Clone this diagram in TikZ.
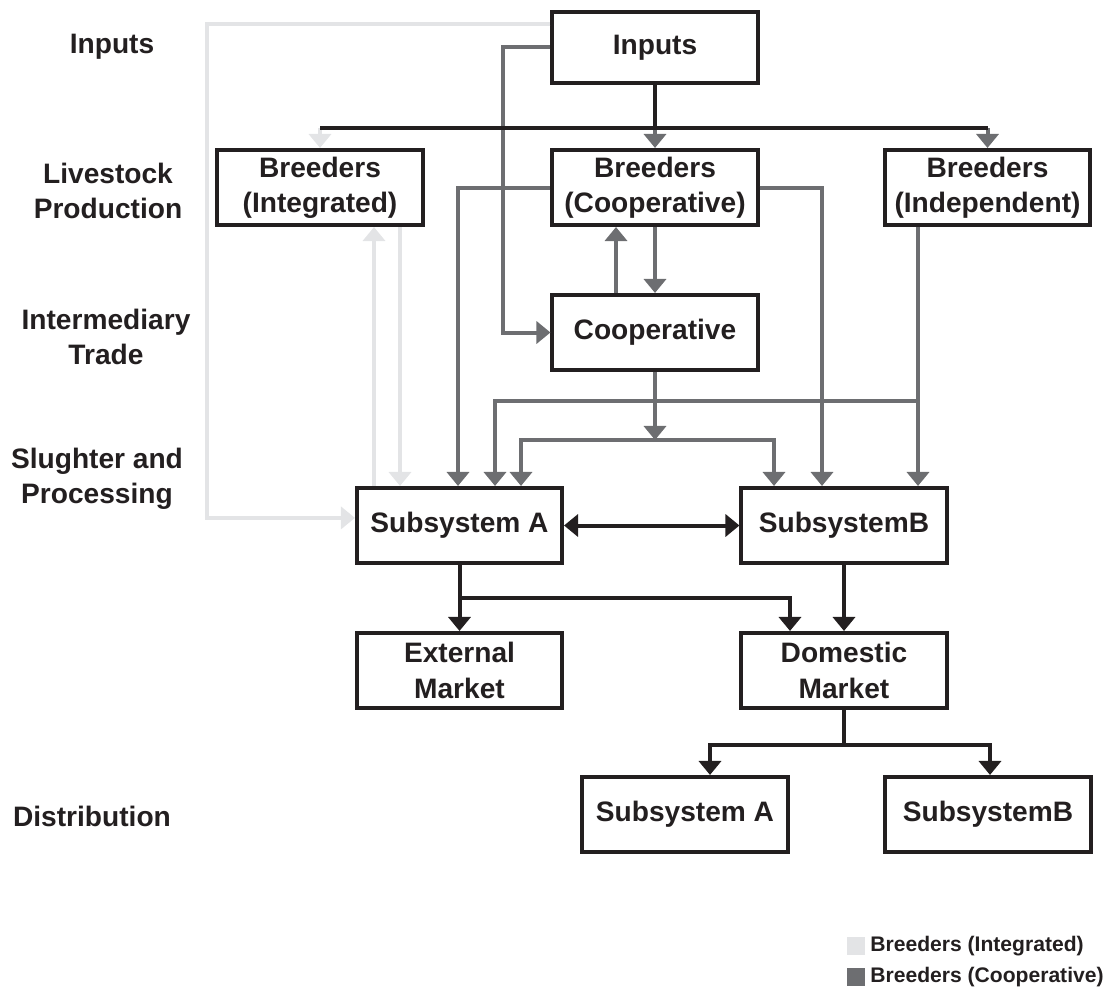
\documentclass[tikz,border=0pt]{standalone}
\usepackage{fontspec}
\setmainfont{Liberation Sans}
\usetikzlibrary{arrows.meta,positioning}
\definecolor{inkblack}{HTML}{231F20}
\definecolor{coopgray}{HTML}{6D6E71}
\definecolor{intgray}{HTML}{E3E4E6}
\newcommand{\boxfont}{\fontsize{20}{25}\selectfont\bfseries}
\newcommand{\keyfont}{\fontsize{15}{18}\selectfont\bfseries}
\tikzset{
    %Define standard arrow tip
    >={Triangle[width=0.55cm,length=0.35cm]},
    %Define style for boxes
    stagebox/.style={
           rectangle,
           draw=inkblack, line width=0.1cm,
           minimum width=5.125cm,
           minimum height=1.875cm,
           inner sep=0pt,
           align=center,
           font=\boxfont,
           text=inkblack},
    rowlabel/.style={
           align=center,
           inner sep=0pt,
           font=\boxfont,
           text=inkblack},
    keybox/.style={
           rectangle,
           minimum size=0.45cm,
           inner sep=0pt},
    keytext/.style={
           inner sep=0pt,
           anchor=west,
           font=\keyfont,
           text=inkblack},
    % Define arrow styles
    intpil/.style={->, draw=intgray, line width=0.1cm},
    cooppil/.style={->, draw=coopgray, line width=0.1cm},
    blackpil/.style={->, draw=inkblack, line width=0.1cm},
    blackline/.style={draw=inkblack, line width=0.1cm}
}
\begin{document}
\begin{tikzpicture}[x=0.025cm,y=-0.025cm]
\useasboundingbox (0,0) rectangle (1112,1005);
 %row labels
\node[rowlabel] (lblInputs) at (112,47) {Inputs};
\node[rowlabel] (lblLive) at (108,191) {Livestock\\Production};
\node[rowlabel] (lblTrade) at (106,337) {Intermediary\\Trade};
\node[rowlabel] (lblSlaught) at (97,479) {Slughter and\\Processing};
\node[rowlabel] (lblDist) at (92,816) {Distribution};
 %nodes
\node[stagebox, minimum height=1.775cm] (inputs) at (655,47.5) {Inputs};
\node[stagebox] (breedInt) at (320,187.5) {Breeders\\(Integrated)};
\node[stagebox] (breedCoop) at (655,187.5) {Breeders\\(Cooperative)};
\node[stagebox] (breedInd) at (987.5,187.5) {Breeders\\(Independent)};
\node[stagebox] (coop) at (655,332.5) {Cooperative};
\node[stagebox] (subA) at (459.5,525.5) {Subsystem A};
\node[stagebox] (subB) at (844,525.5) {SubsystemB};
\node[stagebox] (extMkt) at (459.5,670.5) {External\\Market};
\node[stagebox] (domMkt) at (844,670.5) {Domestic\\Market};
\node[stagebox] (distA) at (685,814.5) {Subsystem A};
\node[stagebox] (distB) at (988,814.5) {SubsystemB};
 %rails and bars
\coordinate (topBar) at (0,128);
\coordinate (indBar) at (0,401);
\coordinate (coopBar) at (0,440);
\coordinate (extBar) at (0,598);
\coordinate (distBar) at (0,745);
\coordinate (intRail) at (207,0);
\coordinate (intUp) at (374,0);
\coordinate (intDown) at (400,0);
\coordinate (coopRailL) at (458,0);
\coordinate (indRailL) at (495,0);
\coordinate (inRail) at (503,0);
\coordinate (coopMidL) at (521,0);
\coordinate (coopUp) at (616,0);
\coordinate (coopMidR) at (774,0);
\coordinate (coopRailR) at (822,0);
\coordinate (indRail) at (918,0);
\coordinate (domLX) at (790,0);
\coordinate (distAX) at (710,0);
\coordinate (distBX) at (990,0);
\coordinate (intOut) at ([yshift=0.59cm]inputs.west);
\coordinate (intIn) at ([yshift=0.19cm]subA.west);
 %integrated breeders
\draw[intpil] (intOut) -| (intRail |- intIn) -- (intIn);
\draw[intpil] (subA.north -| intUp) -- (breedInt.south -| intUp);
\draw[intpil] (breedInt.south -| intDown) -- (subA.north -| intDown);
\draw[intpil] (breedInt.north |- topBar) -- (breedInt.north);
 %cooperative breeders
\draw[cooppil] (inputs.west) -| (inRail |- coop.west) -- (coop.west);
\draw[cooppil] (breedCoop.north |- topBar) -- (breedCoop.north);
\draw[cooppil] (breedInd.north |- topBar) -- (breedInd.north);
\draw[cooppil] (breedCoop.west) -| (subA.north -| coopRailL);
\draw[cooppil] (breedCoop.east) -| (subB.north -| coopRailR);
\draw[cooppil] (coop.north -| coopUp) -- (breedCoop.south -| coopUp);
\draw[cooppil] (breedCoop.south) -- (coop.north);
\draw[cooppil] (coop.south) -- (coop.south |- coopBar);
\draw[cooppil, <->] (subA.north -| coopMidL) |- (coopBar -| coopMidR)
   -- (subB.north -| coopMidR);
\draw[cooppil] (breedInd.south -| indRail) -- (subB.north -| indRail);
\draw[cooppil] (indBar -| indRail) -| (subA.north -| indRailL);
 %black flows
\draw[blackline] (inputs.south) -- (inputs.south |- topBar);
\draw[blackline] (breedInt.north |- topBar) -- (breedInd.north |- topBar);
\draw[blackpil, <->] (subA.east) -- (subB.west);
\draw[blackpil] (subA.south) -- (extMkt.north);
\draw[blackpil] (subA.south |- extBar) -| (domMkt.north -| domLX);
\draw[blackpil] (subB.south) -- (domMkt.north);
\draw[blackline] (domMkt.south) -- (domMkt.south |- distBar);
\draw[blackpil] (distBar -| distBX) -| (distA.north -| distAX);
\draw[blackpil] (distBar -| distAX) -| (distB.north -| distBX);
 %legend
\node[keybox, fill=intgray] (keyInt) at (856,946) {};
\node[keytext, right=0.12cm of keyInt] (keyIntTxt) {Breeders (Integrated)};
\node[keybox, fill=coopgray] (keyCoop) at (856,977) {};
\node[keytext, right=0.12cm of keyCoop] (keyCoopTxt) {Breeders (Cooperative)};
\end{tikzpicture}
\end{document}
